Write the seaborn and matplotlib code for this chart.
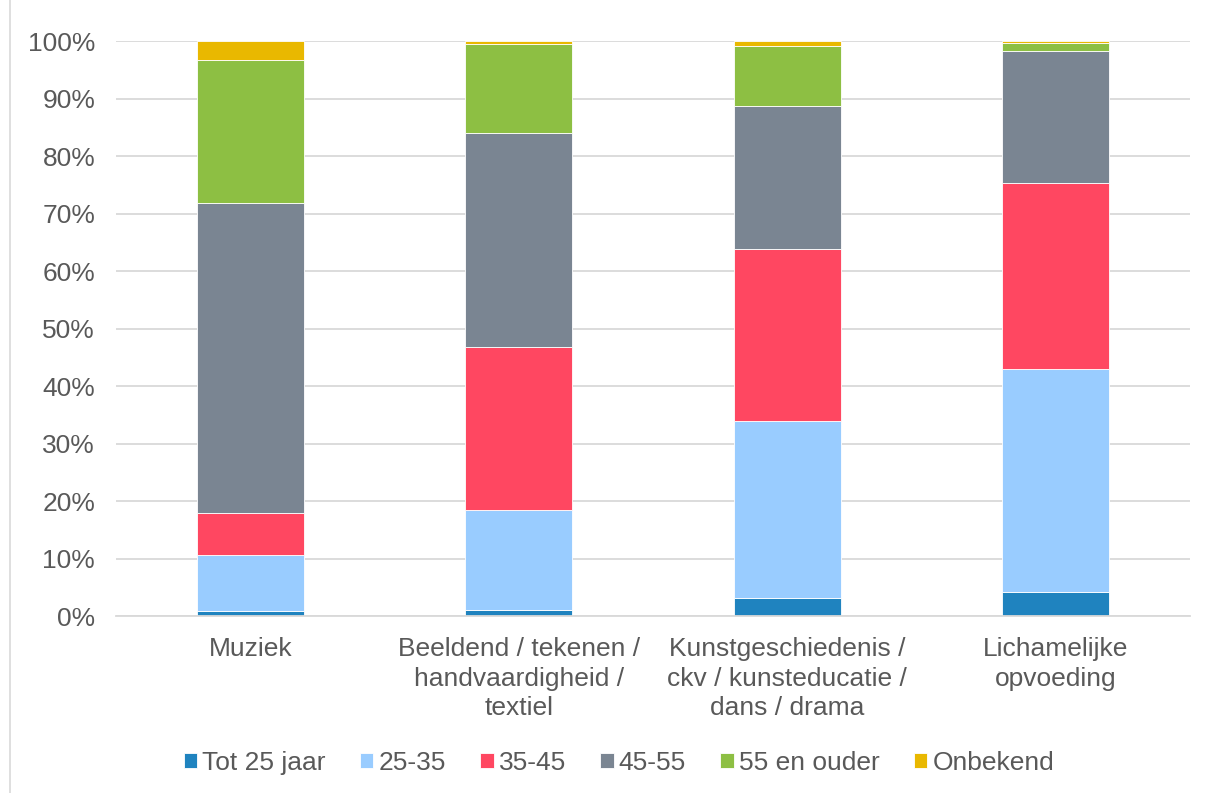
import numpy as np
import pandas as pd
import matplotlib.pyplot as plt
import matplotlib.lines as mlines
import seaborn as sns

categories = ["Muziek",
              "Beeldend / tekenen /\nhandvaardigheid /\ntextiel",
              "Kunstgeschiedenis /\nckv / kunsteducatie /\ndans / drama",
              "Lichamelijke\nopvoeding"]
series = ["Tot 25 jaar", "25-35", "35-45", "45-55", "55 en ouder", "Onbekend"]
tot25 = [0.9, 1.0, 3.1, 4.1]
age_25_35 = [9.7, 17.4, 30.8, 38.9]
age_35_45 = [7.3, 28.4, 29.9, 32.4]
age_45_55 = [54.0, 37.3, 25.0, 22.9]
age_55plus = [24.9, 15.4, 10.4, 1.4]
onbekend = [3.2, 0.5, 0.8, 0.3]
colors = ["#1F83BF", "#99CCFF", "#FF4761", "#7A8592", "#8DBF43", "#E9B800"]

sns.set_style("white")
plt.rcParams['font.family'] = ['Liberation Sans', 'DejaVu Sans']

fig = plt.figure(figsize=(12.06, 7.93), dpi=100)
ax = fig.add_axes([0.0962, 0.2232, 0.8905, 0.7248])

bottom = np.zeros(len(categories))
for name, vals, c in zip(series, [tot25, age_25_35, age_35_45, age_45_55, age_55plus, onbekend], colors):
    df = pd.DataFrame({"cat": categories, "val": vals})
    sns.barplot(data=df, x="cat", y="val", bottom=bottom, color=c, width=0.4,
                saturation=1, edgecolor="white", linewidth=0.6, label=name, ax=ax)
    bottom = bottom + np.array(vals)

ax.set_ylim(0, 100)
ax.set_xlim(-0.5, 3.5)
ax.set_yticks(range(0, 101, 10))
ax.set_yticklabels([f"{v}%" for v in range(0, 101, 10)])
ax.yaxis.grid(True, color="#D9D9D9", linewidth=1.3)
ax.set_axisbelow(True)
ax.set_xlabel("")
ax.set_ylabel("")
for s in ["top", "right", "left"]:
    ax.spines[s].set_visible(False)
ax.spines["bottom"].set_color("#D9D9D9")
ax.spines["bottom"].set_linewidth(1.3)
ax.tick_params(axis="both", length=0, labelsize=19, colors="#595959")
ax.tick_params(axis="y", pad=15)
ax.tick_params(axis="x", pad=15)
for lbl in ax.get_xticklabels():
    lbl.set_linespacing(1.3)

ax.legend(loc="center", bbox_to_anchor=(619 / 1206, 1 - 763 / 793), bbox_transform=fig.transFigure,
          ncol=6, frameon=False, fontsize=19, labelcolor="#595959", handlelength=0.5,
          handleheight=0.5, handletextpad=0.2, columnspacing=1.3)

fig.add_artist(mlines.Line2D([10 / 1206, 10 / 1206], [0, 1], color="#D9D9D9", linewidth=1.2))

fig.savefig("out.png", dpi=100)
